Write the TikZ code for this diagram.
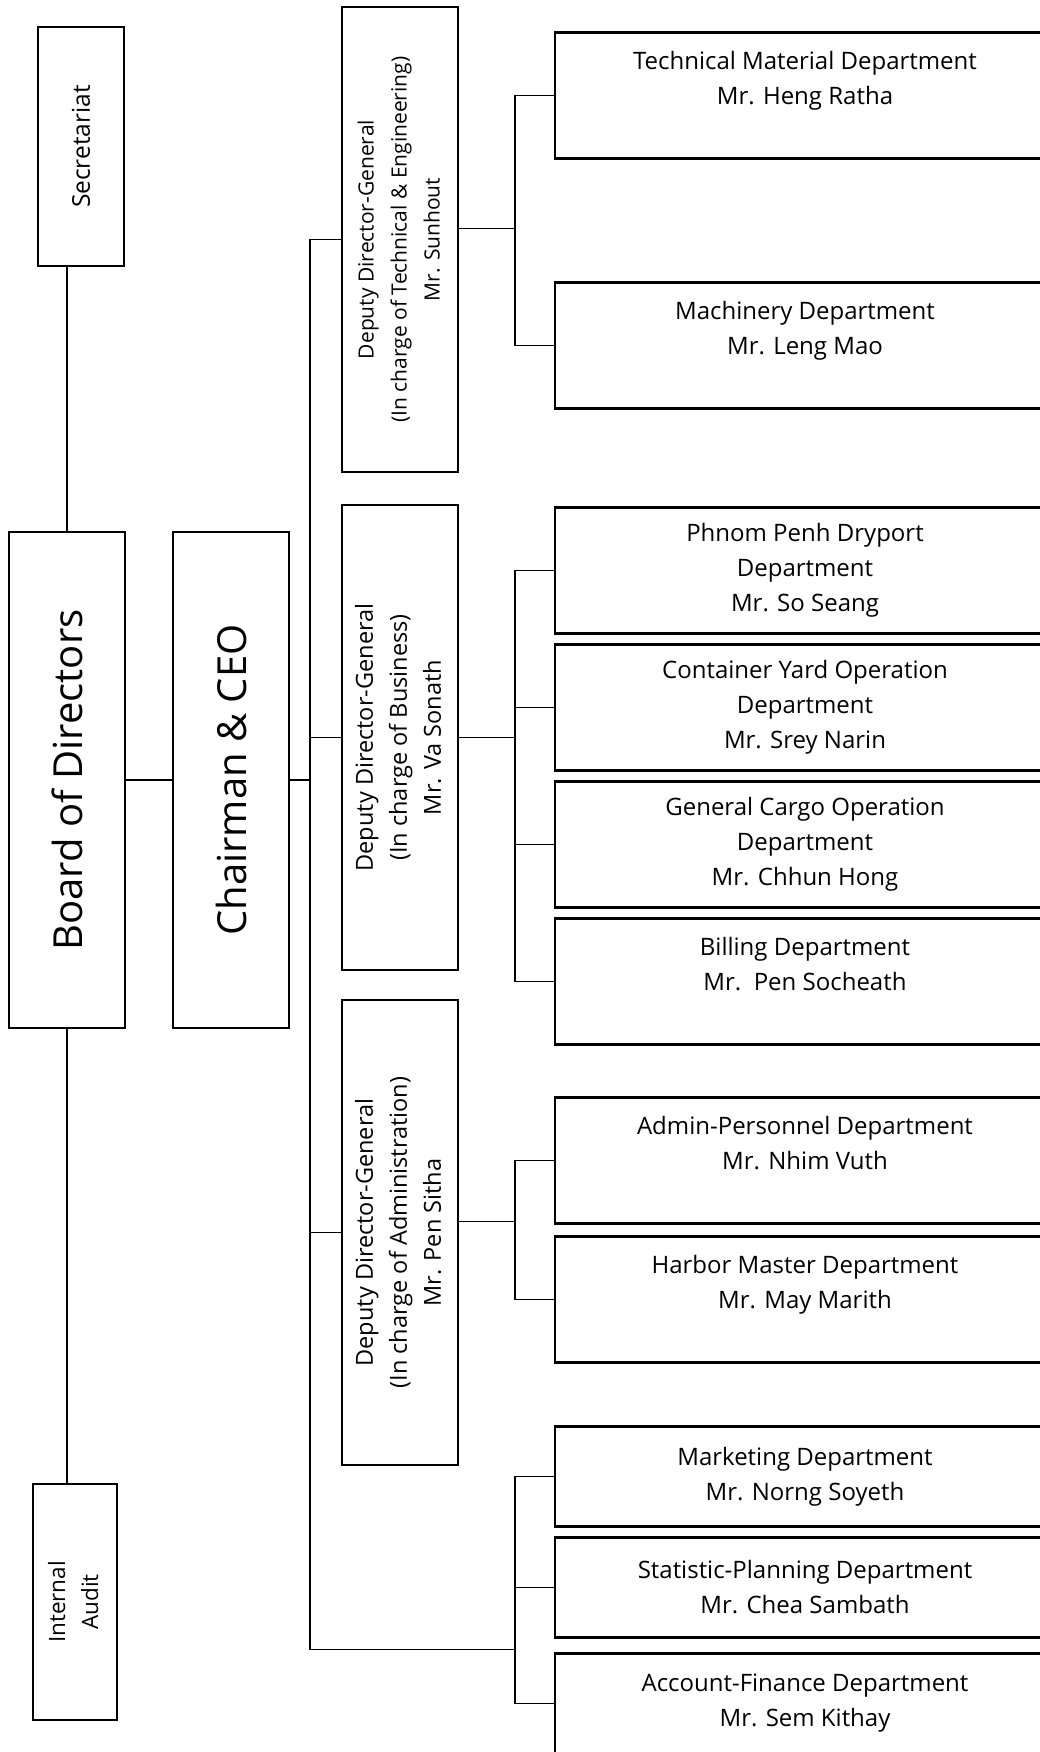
\documentclass[tikz,border=0pt]{standalone}
\usepackage{fontspec}
\setmainfont{Open Sans}
\usepackage{graphicx}
\usetikzlibrary{positioning,calc}
\def \deptGap {11pt}
\def \bracketX {40pt}
\def \busX {310}
\def \eastShift {11}
\newcommand{\vtext}[1]{\rotatebox{90}{\begin{tabular}{@{}c@{}}#1\end{tabular}}}
\tikzset{
 	vblock/.style= {draw, rectangle, line width=2.2pt, outer sep=0pt, inner sep=0pt, align=center, font=\fontsize{23.5}{34}\selectfont},
 	bigblock/.style= {vblock, minimum width=116pt, minimum height=496pt, font=\fontsize{40}{48}\selectfont},
 	ddgblock/.style= {vblock, minimum width=116pt, minimum height=465pt},
 	deptblock/.style= {draw, rectangle, line width=2.2pt, outer sep=0pt, inner sep=0pt, align=center, minimum width=500pt, minimum height=126pt, font=\fontsize{24}{35}\selectfont},
 	smalldept/.style= {deptblock, minimum height=100pt},
	link/.style= {line width=1.3pt}
 }

\begin{document}
\begin{tikzpicture}[x=1pt, y=-1pt]
	\clip (0,0) rectangle (1040,1752);

%%%%%%%%%%%%%%%%%%%%% Nodes %%%%%%%%%%%%%%%%%%%%%
	\node [bigblock] (board) at (67,780) {\rotatebox{90}{Board of Directors}};
	\node [bigblock, right = 48pt of board] (chair) {\rotatebox{90}{Chairman \& CEO}};
	\node [vblock, minimum width=86pt, minimum height=239pt, above = 266pt of board, xshift=14pt, font=\fontsize{24.5}{34}\selectfont] (sec) {\rotatebox{90}{Secretariat}};
	\node [vblock, minimum width=84pt, minimum height=236pt, below = 456pt of board, xshift=8pt, font=\fontsize{22.5}{33}\selectfont] (audit) {\vtext{Internal\\Audit}};

	\node [ddgblock, font=\fontsize{21}{33}\selectfont] (ddg1) at (400,239.5) {\vtext{Deputy Director-General\\(In charge of Technical \& Engineering)\\Mr. Sunhout}};
	\node [ddgblock, below = 33pt of ddg1] (ddg2) {\vtext{Deputy Director-General\\(In charge of Business)\\Mr. Va Sonath}};
	\node [ddgblock, below = 30pt of ddg2] (ddg3) {\vtext{Deputy Director-General\\(In charge of Administration)\\Mr. Pen Sitha}};

	\node [deptblock] (tech) at (805,95.5) {Technical Material Department\\Mr. Heng Ratha\\~};
	\node [deptblock, below = 124pt of tech] (mach) {Machinery Department\\Mr. Leng Mao\\~};

	\node [deptblock, below = 99pt of mach] (phnom) {Phnom Penh Dryport\\Department\\Mr. So Seang};
	\node [deptblock, below = \deptGap of phnom] (yard) {Container Yard Operation\\Department\\Mr. Srey Narin};
	\node [deptblock, below = \deptGap of yard] (cargo) {General Cargo Operation\\Department\\Mr. Chhun Hong};
	\node [deptblock, below = \deptGap of cargo] (bill) {Billing Department\\Mr.\ \ Pen Socheath\\~};

	\node [deptblock, below = 53pt of bill] (admin) {Admin-Personnel Department\\Mr. Nhim Vuth\\~};
	\node [deptblock, below = 13pt of admin] (harbor) {Harbor Master Department\\Mr. May Marith\\~};

	\node [smalldept, below = 64pt of harbor] (mkt) {Marketing Department\\Mr. Norng Soyeth};
	\node [smalldept, below = \deptGap of mkt] (stat) {Statistic-Planning Department\\Mr. Chea Sambath};
	\node [smalldept, below = 16pt of stat] (acct) {Account-Finance Department\\Mr. Sem Kithay};

%%%%%%%%%%%%%%%%%%%%% Links %%%%%%%%%%%%%%%%%%%%%
	\draw [link] (board.north) -- (board.north |- sec.south);
	\draw [link] (board.south) -- (board.south |- audit.north);
	\draw [link] (board.east) -- (chair.west);

	\coordinate (bus) at (\busX,0);
	\coordinate (busEnd) at ($(stat.south -| bus)+(0,12)$);
	\coordinate (br1) at ($(tech.west)+(-\bracketX,0)$);
	\coordinate (br2) at ($(phnom.west)+(-\bracketX,0)$);
	\coordinate (br3) at ($(admin.west)+(-\bracketX,0)$);
	\coordinate (br4) at ($(mkt.west)+(-\bracketX,0)$);

	\draw [link] (chair.east) -- (chair.east -| bus);
	\draw [link] (ddg1.west) -- (ddg1.west -| bus) -- (busEnd) -- (busEnd -| br4);
	\draw [link] (ddg2.west) -- (ddg2.west -| bus);
	\draw [link] (ddg3.west) -- (ddg3.west -| bus);

	\draw [link] (tech.west) -- (br1) |- (mach.west);
	\draw [link] ($(ddg1.east)+(0,-\eastShift)$) -- ($(ddg1.east -| br1)+(0,-\eastShift)$);

	\draw [link] (phnom.west) -- (br2) |- (bill.west);
	\draw [link] (yard.west) -- (yard.west -| br2);
	\draw [link] (cargo.west) -- (cargo.west -| br2);
	\draw [link] (ddg2.east) -- (ddg2.east -| br2);

	\draw [link] (admin.west) -- (br3) |- (harbor.west);
	\draw [link] ($(ddg3.east)+(0,-\eastShift)$) -- ($(ddg3.east -| br3)+(0,-\eastShift)$);

	\draw [link] (mkt.west) -- (br4) |- (acct.west);
	\draw [link] (stat.west) -- (stat.west -| br4);

\end{tikzpicture}
\end{document}
